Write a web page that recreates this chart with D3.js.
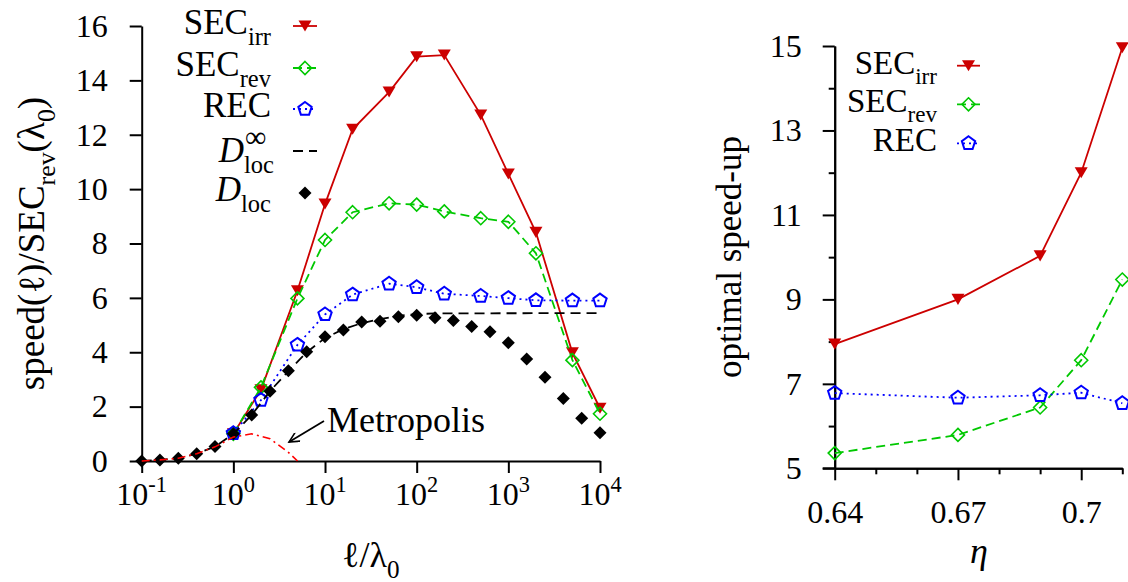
<!DOCTYPE html>
<html><head><meta charset="utf-8">
<script src="https://cdn.jsdelivr.net/npm/d3@7"></script>
<style>
body{margin:0;background:#fff}
svg text{fill:#000}
</style>
</head><body>
<svg id="c" width="1128" height="582" font-family="Liberation Serif, serif"></svg>
<script>
// ---------- data: left panel ----------
const ellGrid = [1,2,5,10,20,50,100,200,500,1000,2000,5000,10000];
const secIrr  = [1.0,2.62,6.26,9.45,12.2,13.57,14.87,14.93,12.73,10.56,8.41,3.98,1.94];
const secRev  = [1.0,2.71,5.98,8.13,9.15,9.48,9.43,9.18,8.93,8.80,7.64,3.71,1.74];
const recVals = [1.02,2.24,4.27,5.39,6.12,6.52,6.39,6.15,6.07,5.99,5.91,5.90,5.90];

const dlocX = [0.1,0.158,0.251,0.398,0.631,1,1.585,2.512,3.981,6.31,10,15.85,25.12,39.81,63.1,100,158.5,251.2,398.1,631,1000,1585,2512,3981,6310,10000];
const dlocY = [0.0,0.04,0.10,0.27,0.53,1.0,1.69,2.57,3.32,4.02,4.57,4.82,5.11,5.14,5.31,5.36,5.27,5.17,4.95,4.75,4.35,3.75,3.08,2.30,1.57,1.04];

const dinfX = [0.1,0.158,0.251,0.398,0.631,1,1.585,2.512,3.981,6.31,10,15.85,25.12,39.81,63.1,100,158.5,10000];
const dinfY = [0.0,0.04,0.10,0.27,0.53,1.0,1.69,2.57,3.30,4.00,4.52,4.85,5.07,5.22,5.34,5.40,5.43,5.44];

const metroX = [0.1,0.158,0.251,0.398,0.631,1,1.585,2.512,3.981,5.012];
const metroY = [0.0,0.04,0.10,0.27,0.52,0.88,1.0,0.82,0.32,0.0];

const leftYTicks = [0,2,4,6,8,10,12,14,16];
const leftXTicks = [0.1,1,10,100,1000,10000];
const leftXExp   = ["-1","0","1","2","3","4"];

// ---------- data: right panel ----------
const etaVals = [0.64,0.67,0.69,0.70,0.71];
const rIrr = [7.94,9.0,10.03,12.0,14.96];
const rRev = [5.36,5.79,6.44,7.56,9.47];
const rRec = [6.78,6.67,6.73,6.79,6.54];
const rightYMajor = [5,7,9,11,13,15];
const rightYMinor = [6,8,10,12,14];
const rightXMajor = [0.64,0.67,0.70];
const rightXMinor = [0.65,0.66,0.68,0.69,0.71];

// ---------- styles ----------
const FONT = "Liberation Serif, serif";
const RED = "#cc0000", GREEN = "#00c800", BLUE = "#0000ff", MRED = "#ff0000";

const svg = d3.select("#c");

function triDown(s){ const h=s*0.85; return `M${-s/2},${-h/2}L${s/2},${-h/2}L0,${h/2}Z`; }
function diamond(s){ const r=s/2; return `M0,${-r}L${r},0L0,${r}L${-r},0Z`; }
function pentagon(s){ const r=s/2; let p=""; for(let i=0;i<5;i++){const a=-Math.PI/2+i*2*Math.PI/5; p+=(i?"L":"M")+(r*Math.cos(a)).toFixed(2)+","+(r*Math.sin(a)).toFixed(2);} return p+"Z"; }

const styles = {
  irr: {color:RED, dash:null, width:1.8, marker:(g)=>g.append("path").attr("d",triDown(13)).attr("fill",RED)},
  rev: {color:GREEN, dash:"9,5", width:1.8, marker:(g)=>g.append("path").attr("d",diamond(13)).attr("fill","none").attr("stroke",GREEN).attr("stroke-width",1.6)},
  rec: {color:BLUE, dash:"2,4", width:1.8, marker:(g)=>g.append("path").attr("d",pentagon(14)).attr("fill","none").attr("stroke",BLUE).attr("stroke-width",2)},
  dinf:{color:"#000", dash:"10,6", width:1.8, marker:null},
  dloc:{color:"#000", dash:null, width:0, marker:(g)=>g.append("path").attr("d",diamond(13)).attr("fill","#000")}
};

function drawSeries(g, xs, ys, x, y, st, withLine, withMarkers){
  const pts = xs.map((d,i)=>[x(d), y(ys[i])]);
  if(withLine){
    g.append("path").attr("d", d3.line()(pts)).attr("fill","none")
      .attr("stroke", st.color).attr("stroke-width", st.width)
      .attr("stroke-dasharray", st.dash);
  }
  if(withMarkers && st.marker){
    pts.forEach(p=>{ const m=g.append("g").attr("transform",`translate(${p[0]},${p[1]})`); st.marker(m); });
  }
}

function txt(g){ return g.append("text").attr("font-family",FONT).attr("fill","#000"); }

function rich(textSel, segs, fs){
  let cur = 0;
  segs.forEach(s=>{
    const target = s.sub ? 0.3*fs : (s.sup ? -0.42*fs : 0);
    const ts = textSel.append("tspan").text(s.t)
      .attr("dy", (target-cur).toFixed(2))
      .attr("font-size", (s.sub||s.sup) ? fs*0.7 : fs);
    if(s.it) ts.attr("font-style","italic");
    cur = target;
  });
}

function styleAxis(g, fs){
  g.attr("font-family",FONT);
  g.selectAll("path.domain").attr("stroke","#000").attr("stroke-width",2);
  g.selectAll(".tick line").attr("stroke","#000").attr("stroke-width",2);
  g.selectAll("text").attr("font-size",fs).attr("font-family",FONT).attr("fill","#000");
}

// ================= LEFT PANEL =================
const xL = d3.scaleLog().domain([0.1,10000]).range([141.7,600]);
const yL = d3.scaleLinear().domain([0,16]).range([461,26]);
const gL = svg.append("g");

const axYL = gL.append("g").attr("transform",`translate(${xL.range()[0]},0)`)
  .call(d3.axisLeft(yL).tickValues(leftYTicks).tickFormat(d3.format("d")).tickSize(12).tickSizeOuter(0).tickPadding(22));
styleAxis(axYL, 32);
const axXL = gL.append("g").attr("transform",`translate(0,${yL(0)})`)
  .call(d3.axisBottom(xL).tickValues(leftXTicks).tickFormat("").tickSize(12).tickSizeOuter(0));
styleAxis(axXL, 32);
leftXTicks.forEach((v,i)=>{
  const t = txt(gL).attr("x", xL(v)).attr("y", 505).attr("text-anchor","middle").attr("font-size",32);
  rich(t, [{t:"10"},{t:leftXExp[i],sup:true}], 32);
});

drawSeries(gL, ellGrid, secIrr, xL, yL, styles.irr, true, true);
drawSeries(gL, ellGrid, secRev, xL, yL, styles.rev, true, true);
drawSeries(gL, ellGrid, recVals, xL, yL, styles.rec, true, true);
drawSeries(gL, dinfX, dinfY, xL, yL, styles.dinf, true, false);
drawSeries(gL, dlocX, dlocY, xL, yL, styles.dloc, false, true);
gL.append("path").attr("d", d3.line()(metroX.map((d,i)=>[xL(d), yL(metroY[i])])))
  .attr("fill","none").attr("stroke",MRED).attr("stroke-width",1.6).attr("stroke-dasharray","8,4,2,4");

svg.append("defs").append("marker").attr("id","ah").attr("viewBox","0 0 10 10")
  .attr("refX",10).attr("refY",5).attr("markerWidth",14).attr("markerHeight",10)
  .attr("markerUnits","userSpaceOnUse").attr("orient","auto")
  .append("path").attr("d","M0,0L10,5L0,10").attr("fill","none").attr("stroke","#000").attr("stroke-width",1.6);
gL.append("line").attr("x1",324).attr("y1",421).attr("x2",289).attr("y2",442)
  .attr("stroke","#000").attr("stroke-width",1.8).attr("marker-end","url(#ah)");
txt(gL).attr("x",327).attr("y",432).attr("font-size",36).text("Metropolis");

const ylabL = txt(gL).attr("transform","translate(44,243.5) rotate(-90)").attr("text-anchor","middle");
rich(ylabL, [{t:"speed(ℓ)/SEC"},{t:"rev",sub:true},{t:"(λ"},{t:"0",sub:true},{t:")"}], 37);
const xlabL = txt(gL).attr("x",371).attr("y",567).attr("text-anchor","middle");
rich(xlabL, [{t:"ℓ/λ"},{t:"0",sub:true}], 36);

const legL = [
  {key:"irr", y:26,  label:[{t:"SEC"},{t:"irr",sub:true}]},
  {key:"rev", y:68,  label:[{t:"SEC"},{t:"rev",sub:true}]},
  {key:"rec", y:109, label:[{t:"REC"}]},
  {key:"dinf",y:151, label:null},
  {key:"dloc",y:193, label:[{t:"D",it:true},{t:"loc",sub:true}]}
];
legL.forEach(r=>{
  const st = styles[r.key];
  if(r.key!=="dloc"){
    gL.append("line").attr("x1",293).attr("x2",317).attr("y1",r.y).attr("y2",r.y)
      .attr("stroke",st.color).attr("stroke-width",st.width).attr("stroke-dasharray",st.dash);
  }
  if(st.marker){ const m=gL.append("g").attr("transform",`translate(305,${r.y})`); st.marker(m); }
  if(r.label){
    const t = txt(gL).attr("x",271).attr("y",r.y+8).attr("text-anchor","end");
    rich(t, r.label, 35);
  }
});
txt(gL).attr("x",244).attr("y",162).attr("text-anchor","end").attr("font-size",35).attr("font-style","italic").text("D");
txt(gL).attr("x",244).attr("y",173).attr("font-size",24.5).text("loc");
txt(gL).attr("x",245).attr("y",147).attr("font-size",30).text("∞");

// ================= RIGHT PANEL =================
const xR = d3.scaleLinear().domain([0.64,0.71]).range([834.7,1122.3]);
const yR = d3.scaleLinear().domain([5,15]).range([468.3,46]);
const gR = svg.append("g");

const axYR = gR.append("g").attr("transform",`translate(${xR.range()[0]},0)`)
  .call(d3.axisLeft(yR).tickValues(rightYMajor).tickFormat(d3.format("d")).tickSize(12).tickSizeOuter(0).tickPadding(21));
styleAxis(axYR, 32);
const axYR2 = gR.append("g").attr("transform",`translate(${xR.range()[0]},0)`)
  .call(d3.axisLeft(yR).tickValues(rightYMinor).tickFormat("").tickSize(6).tickSizeOuter(0));
styleAxis(axYR2, 32);
const axXR = gR.append("g").attr("transform",`translate(0,${yR(5)})`)
  .call(d3.axisBottom(xR).tickValues(rightXMajor).tickFormat(d=>String(+d.toFixed(2))).tickSize(12).tickSizeOuter(0).tickPadding(20));
styleAxis(axXR, 32);
const axXR2 = gR.append("g").attr("transform",`translate(0,${yR(5)})`)
  .call(d3.axisBottom(xR).tickValues(rightXMinor).tickFormat("").tickSize(6).tickSizeOuter(0));
styleAxis(axXR2, 32);
gR.append("line").attr("x1",822.7).attr("x2",834.7).attr("y1",yR(5)).attr("y2",yR(5)).attr("stroke","#000").attr("stroke-width",2);

drawSeries(gR, etaVals, rIrr, xR, yR, styles.irr, true, true);
drawSeries(gR, etaVals, rRev, xR, yR, styles.rev, true, true);
drawSeries(gR, etaVals, rRec, xR, yR, styles.rec, true, true);

const ylabR = txt(gR).attr("transform","translate(741,257) rotate(-90)").attr("text-anchor","middle");
rich(ylabR, [{t:"optimal speed-up"}], 35);
txt(gR).attr("x",979).attr("y",563).attr("text-anchor","middle").attr("font-size",36).attr("font-style","italic").text("η");

const legR = [
  {key:"irr", y:65.7,  label:[{t:"SEC"},{t:"irr",sub:true}]},
  {key:"rev", y:104.3, label:[{t:"SEC"},{t:"rev",sub:true}]},
  {key:"rec", y:143.3, label:[{t:"REC"}]}
];
legR.forEach(r=>{
  const st = styles[r.key];
  gR.append("line").attr("x1",957).attr("x2",980).attr("y1",r.y).attr("y2",r.y)
    .attr("stroke",st.color).attr("stroke-width",st.width).attr("stroke-dasharray",st.dash);
  const m=gR.append("g").attr("transform",`translate(968.5,${r.y})`); st.marker(m);
  const t = txt(gR).attr("x",937).attr("y",r.y+8).attr("text-anchor","end");
  rich(t, r.label, 33);
});
</script>
</body></html>
